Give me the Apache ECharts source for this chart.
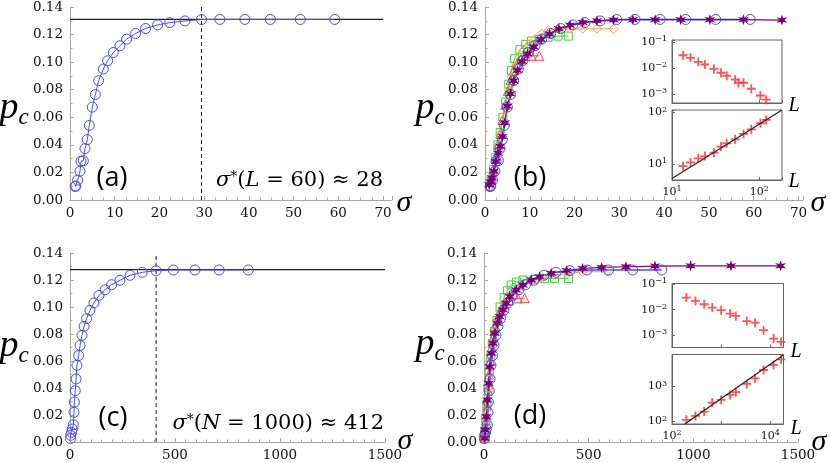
<!DOCTYPE html>
<html><head><meta charset="utf-8">
<script src="https://cdn.jsdelivr.net/npm/echarts@6/dist/echarts.min.js"></script>
<style>html,body{margin:0;padding:0;background:#fff}#c{width:830px;height:463px}</style>
</head><body><div id="c"></div>
<script>
// ---------- panel (a): L = 60 ----------
const aSigma = [1.15,1.30,1.71,2.23,2.46,2.98,3.35,3.87,4.32,4.99,5.66,6.40,7.45,8.41,9.68,11.17,12.66,14.67,16.90,19.60,22.30,25.70,29.40,33.50,39.10,44.80,51.50,59.20];
const aPc    = [0.0098,0.0102,0.0144,0.0209,0.0281,0.0285,0.0373,0.0438,0.0541,0.0674,0.0765,0.0866,0.0950,0.1010,0.1070,0.1119,0.1167,0.1208,0.1244,0.1270,0.1287,0.1299,0.1309,0.1310,0.1310,0.1310,0.1310,0.1310];
const aPlateau = 0.131, aPlateauEnd = 70, aStar = 29.4;

// ---------- panel (b) ----------
const bRedSigma = [1.0,1.4,1.9,2.4,2.9,3.4,3.9,4.5,5.1,5.7,6.4,7.2,8.0,9.0,10.4,12.1];
const bRedPc    = [0.010,0.015,0.022,0.030,0.040,0.048,0.058,0.069,0.079,0.087,0.094,0.099,0.102,0.1044,0.1046,0.1046];
const bGreenSigma = [1.0,1.4,1.9,2.4,2.9,3.4,4.0,4.6,5.3,5.9,6.6,7.8,9.1,10.4,12.1,14.1,16.3,18.6];
const bGreenPc    = [0.010,0.015,0.022,0.031,0.040,0.049,0.060,0.071,0.084,0.094,0.1025,0.109,0.1129,0.1153,0.1163,0.118,0.1189,0.1189];
const bOrangeSigma = [1.0,1.4,1.9,2.4,2.9,3.4,4.0,4.6,5.3,6.0,6.8,7.7,8.7,9.9,11.2,12.6,14.2,16.4,19.0,21.8,25.0,28.7];
const bOrangePc    = [0.009,0.014,0.021,0.030,0.039,0.048,0.058,0.069,0.080,0.089,0.097,0.104,0.109,0.113,0.117,0.1205,0.123,0.124,0.1242,0.1242,0.1242,0.1242];
const bPurpleSigma = [0.95,1.25,1.6,2.0,2.4,2.9,3.4,3.9,4.4,5.0,5.7,6.4,7.3,8.3,9.5,10.9,12.5,14.4,16.5,19.0,21.8,25.0,28.7,33.0,38.0,43.7,50.2,57.7,66.3];
const bPurplePc    = [0.011,0.013,0.016,0.021,0.028,0.034,0.039,0.046,0.056,0.068,0.077,0.0865,0.094,0.1005,0.106,0.111,0.1165,0.1205,0.1242,0.1268,0.1288,0.1300,0.1306,0.1308,0.1308,0.1308,0.1308,0.1308,0.1305];

// inset (b)
const bInsetTopL = [13.4,16.3,20,23.8,30.2,36.4,42.4,52.9,57.6,66,81,103,120];
const bInsetTopV = [0.032,0.0255,0.0179,0.0141,0.0095,0.0068,0.0052,0.0037,0.0028,0.0028,0.00165,0.00091,0.00063];
const bInsetBotL = [13.4,16.3,20,23.8,30.2,36.4,42.4,52.9,66,81,103,120];
const bInsetBotV = [9.1,10.8,12.9,14.3,16.6,21.8,25.3,30.2,38.4,47.3,62,72];
const bFitL = [10,182];
const bFitV = [5.25,112];

// ---------- panel (c): N = 1000 ----------
const cSigma = [2,3,8,11,16,19,21,25,29,33,41,48,57,67,79,95,114,138,167,198,238,286,344,410,492,595,710,849];
const cPc    = [0.0025,0.005,0.0072,0.0096,0.0128,0.022,0.0296,0.038,0.0467,0.0568,0.064,0.0716,0.079,0.0857,0.0914,0.0975,0.103,0.1086,0.1128,0.1165,0.1198,0.1235,0.1257,0.1269,0.1274,0.1274,0.1274,0.1274];
const cPlateau = 0.1277, cPlateauEnd = 1500, cStar = 410;

// ---------- panel (d) ----------
const dRedSigma = [2,5,9,14,19,24,30,37,45,55,66,80,98,120,162,194];
const dRedPc    = [0.003,0.008,0.016,0.027,0.038,0.050,0.060,0.070,0.078,0.086,0.092,0.098,0.102,0.105,0.1064,0.1066];
const dGreenSigma = [2,5,9,14,19,25,32,40,50,62,77,96,112,130,155,186,240,290,337,403];
const dGreenPc    = [0.003,0.008,0.017,0.028,0.040,0.052,0.063,0.073,0.082,0.090,0.100,0.107,0.112,0.1163,0.1185,0.12,0.1205,0.121,0.1212,0.1212];
const dOrangeSigma = [2,5,9,14,19,25,32,40,50,62,77,96,118,145,180,225,280,340,400,470,586];
const dOrangePc    = [0.003,0.008,0.017,0.028,0.040,0.052,0.063,0.073,0.082,0.090,0.097,0.103,0.108,0.1125,0.116,0.119,0.1215,0.1235,0.1248,0.126,0.1262];
const dPurpleSigma = [3,6,11,16,22,27,35,43,51,64,75,91,107,123,154,186,226,266,321,395,471,562,678,817,987,1180,1417];
const dPurplePc    = [0.0027,0.0089,0.0187,0.0311,0.0435,0.0558,0.0657,0.0731,0.0805,0.0879,0.0928,0.0978,0.1027,0.1077,0.1126,0.1163,0.12,0.1225,0.125,0.127,0.1285,0.1293,0.1298,0.1303,0.1305,0.1305,0.1305];

// inset (d)
const dInsetL    = [196,300,452,659,1000,1520,1990,3330,4900,7300,11700,16600];
const dInsetTopV = [0.030,0.0222,0.0164,0.0122,0.0096,0.0071,0.0057,0.0036,0.0031,0.00158,0.00074,0.00055];
const dInsetBotV = [112,145,193,349,417,576,691,1190,1730,2990,4170,6030];
const dFitL = [182,18600];
const dFitV = [85,8035];

// ---------- helpers ----------
const zip = (xs, ys) => xs.map((x, i) => [x, ys[i]]);
const SERIF = 'DejaVu Serif';
const AX = '#a8a8a8';
const BLUE = '#4a4aff', RED = '#ff4a4a', GREEN = '#3ad43a', ORANGE = '#ffa04a', PURPLE = '#7a007a';

function starPath(n, R, r) {
  let d = '';
  for (let i = 0; i < 2 * n; i++) {
    const a = -Math.PI / 2 + i * Math.PI / n;
    const rr = i % 2 === 0 ? R : r;
    d += (i === 0 ? 'M' : 'L') + (10 + rr * Math.cos(a)).toFixed(2) + ',' + (10 + rr * Math.sin(a)).toFixed(2);
  }
  return 'path://' + d + 'Z';
}
const STAR = starPath(6, 10, 4);
const PLUS = 'path://M4,0H6V4H10V6H6V10H4V6H0V4H4Z';

function mainX(g, max, interval, minorSplit) {
  return {
    type: 'value', gridIndex: g, min: 0, max: max, interval: interval,
    axisLine: { show: true, onZero: false, lineStyle: { color: AX, width: 1 } },
    axisTick: { show: true, inside: true, length: 4, lineStyle: { color: AX } },
    minorTick: { show: true, splitNumber: minorSplit, length: 2.5, lineStyle: { color: AX } },
    splitLine: { show: false },
    axisLabel: { margin: 6, color: '#111', fontFamily: SERIF, fontSize: 13.5,
      formatter: v => (Math.abs(v / interval - Math.round(v / interval)) < 1e-9 ? String(v) : '') }
  };
}
function mainY(g) {
  return {
    type: 'value', gridIndex: g, min: 0, max: 0.14, interval: 0.02,
    axisLine: { show: true, onZero: false, lineStyle: { color: AX, width: 1 } },
    axisTick: { show: true, inside: true, length: 4, lineStyle: { color: AX } },
    minorTick: { show: true, splitNumber: 2, length: 2.5, lineStyle: { color: AX } },
    splitLine: { show: false },
    axisLabel: { margin: 7, color: '#111', fontFamily: SERIF, fontSize: 13.5, formatter: v => v.toFixed(2) }
  };
}
const logRich = {
  b: { fontFamily: SERIF, fontSize: 11, color: '#111', lineHeight: 14 },
  s: { fontFamily: SERIF, fontSize: 8, color: '#111', lineHeight: 9, verticalAlign: 'top' }
};
function logAxis(g, min, max, showLabels, hide) {
  return {
    type: 'log', logBase: 10, gridIndex: g, min: min, max: max,
    axisLine: { show: true, onZero: false, lineStyle: { color: '#666' } },
    axisTick: { show: true, inside: true, length: 3, lineStyle: { color: '#666' } },
    splitLine: { show: false },
    axisLabel: {
      show: showLabels, margin: 5, rich: logRich,
      formatter: v => {
        const e = Math.log10(v), r = Math.round(e);
        if (Math.abs(e - r) > 1e-6 || hide.indexOf(r) >= 0) return '';
        return '{b|10}{s|' + (r < 0 ? '\u2212' + (-r) : r) + '}';
      }
    }
  };
}
function curve(g, xs, ys, color, symbol, size, filled, lw) {
  return {
    type: 'line', xAxisIndex: g, yAxisIndex: g, data: zip(xs, ys),
    symbol: symbol, symbolSize: size, showAllSymbol: true, silent: true,
    lineStyle: { color: color, width: lw || 1 },
    itemStyle: filled ? { color: color, borderWidth: 0 } : { color: 'rgba(0,0,0,0)', borderColor: color, borderWidth: 1 }
  };
}
function refLine(g, xs, ys, dashed) {
  return {
    type: 'line', xAxisIndex: g, yAxisIndex: g, data: zip(xs, ys), symbol: 'none', silent: true,
    lineStyle: { color: '#222', width: dashed ? 1 : 1.2, type: dashed ? [4, 3] : 'solid' }
  };
}
function plusSeries(g, xs, ys) {
  return {
    type: 'scatter', xAxisIndex: g, yAxisIndex: g, data: zip(xs, ys),
    symbol: PLUS, symbolSize: 9, silent: true, itemStyle: { color: '#ff2a2a' }
  };
}
function txt(x, y, text, style) {
  return { type: 'text', x: x, y: y, silent: true,
    style: Object.assign({ text: text, fill: '#000', align: 'center', verticalAlign: 'middle',
      textAlign: 'center', textVerticalAlign: 'middle' }, style) };
}
const pcRich = {
  p: { fontFamily: 'Liberation Serif', fontStyle: 'italic', fontSize: 38, lineHeight: 42, color: '#000' },
  c: { fontFamily: 'Liberation Serif', fontStyle: 'italic', fontSize: 23, lineHeight: 23, verticalAlign: 'bottom', color: '#000' }
};
const sigFont = { fontFamily: 'Liberation Serif', fontStyle: 'italic', fontSize: 30 };
const lFont = { fontFamily: 'Liberation Serif', fontStyle: 'italic', fontSize: 20 };
const panelFont = { fontFamily: 'Open Sans', fontSize: 27 };
const starRich = {
  i: { fontFamily: SERIF, fontStyle: 'italic', fontSize: 21, color: '#000' },
  u: { fontFamily: SERIF, fontSize: 14, color: '#000', verticalAlign: 'top', lineHeight: 14 }
};

const chart = echarts.init(document.getElementById('c'), null, { renderer: 'canvas' });
chart.setOption({
  animation: false,
  backgroundColor: '#fff',
  grid: [
    { left: 70, top: 6.5, width: 322, height: 193.5 },
    { left: 485, top: 6.5, width: 318, height: 193.5 },
    { left: 70, top: 253, width: 315, height: 189 },
    { left: 484, top: 253, width: 314, height: 189 },
    { left: 672, top: 40, width: 110, height: 63, show: true, backgroundColor: '#fff', borderColor: '#666', borderWidth: 1 },
    { left: 672, top: 110, width: 110, height: 70, show: true, backgroundColor: '#fff', borderColor: '#666', borderWidth: 1 },
    { left: 672, top: 283.5, width: 111.5, height: 64, show: true, backgroundColor: '#fff', borderColor: '#666', borderWidth: 1 },
    { left: 672, top: 354.5, width: 111.5, height: 69.5, show: true, backgroundColor: '#fff', borderColor: '#666', borderWidth: 1 }
  ],
  xAxis: [
    mainX(0, 72, 10, 4), mainX(1, 71, 10, 4), mainX(2, 1500, 500, 10), mainX(3, 1500, 500, 10),
    logAxis(4, 10, 182, false, []), logAxis(5, 10, 182, true, []),
    logAxis(6, 100, 18600, false, []), logAxis(7, 100, 18600, true, [3])
  ],
  yAxis: [
    mainY(0), mainY(1), mainY(2), mainY(3),
    logAxis(4, 0.000468, 0.123, true, []), logAxis(5, 4.9, 112, true, []),
    logAxis(6, 0.00033, 0.107, true, []), logAxis(7, 85, 8300, true, [])
  ],
  series: [
    // (a)
    refLine(0, [0, aPlateauEnd], [aPlateau, aPlateau], false),
    refLine(0, [aStar, aStar], [0, 0.14], true),
    curve(0, aSigma, aPc, BLUE, 'circle', 10, false, 1),
    // (b)
    curve(1, bRedSigma, bRedPc, RED, 'triangle', 9, false, 1),
    curve(1, bGreenSigma, bGreenPc, GREEN, 'rect', 8, false, 1),
    curve(1, bOrangeSigma, bOrangePc, ORANGE, 'diamond', 9, false, 1),
    curve(1, aSigma, aPc, BLUE, 'circle', 10, false, 1.5),
    curve(1, bPurpleSigma, bPurplePc, PURPLE, STAR, 11, true, 1.2),
    // (c)
    refLine(2, [0, cPlateauEnd], [cPlateau, cPlateau], false),
    refLine(2, [cStar, cStar], [0, 0.14], true),
    curve(2, cSigma, cPc, BLUE, 'circle', 10, false, 1),
    // (d)
    curve(3, dRedSigma, dRedPc, RED, 'triangle', 9, false, 1),
    curve(3, dGreenSigma, dGreenPc, GREEN, 'rect', 8, false, 1),
    curve(3, dOrangeSigma, dOrangePc, ORANGE, 'diamond', 9, false, 1),
    curve(3, cSigma, cPc, BLUE, 'circle', 10, false, 1.5),
    curve(3, dPurpleSigma, dPurplePc, PURPLE, STAR, 11, true, 1.2),
    // insets
    plusSeries(4, bInsetTopL, bInsetTopV),
    refLine(5, bFitL, bFitV, false),
    plusSeries(5, bInsetBotL, bInsetBotV),
    plusSeries(6, dInsetL, dInsetTopV),
    refLine(7, dFitL, dFitV, false),
    plusSeries(7, dInsetL, dInsetBotV)
  ],
  graphic: [
    txt(14, 108, '{p|p}{c|c}', { rich: pcRich }),
    txt(430, 108, '{p|p}{c|c}', { rich: pcRich }),
    txt(14, 346, '{p|p}{c|c}', { rich: pcRich }),
    txt(430, 344, '{p|p}{c|c}', { rich: pcRich }),
    txt(404, 203, '\u03c3', sigFont),
    txt(818, 203, '\u03c3', sigFont),
    txt(405, 441, '\u03c3', sigFont),
    txt(819, 442, '\u03c3', sigFont),
    txt(112, 178, '(a)', panelFont),
    txt(530, 178, '(b)', panelFont),
    txt(113, 418, '(c)', panelFont),
    txt(530, 416, '(d)', panelFont),
    txt(383, 181, '{i|\u03c3}{u|*}(' + '{i|L} = 60) \u2248 28',
      { rich: starRich, fontFamily: SERIF, fontSize: 21, align: 'right', textAlign: 'right' }),
    txt(384, 424, '{i|\u03c3}{u|*}(' + '{i|N} = 1000) \u2248 412',
      { rich: starRich, fontFamily: SERIF, fontSize: 21, align: 'right', textAlign: 'right' }),
    txt(794, 106, 'L', lFont),
    txt(794, 182, 'L', lFont),
    txt(796, 352, 'L', lFont),
    txt(796, 429, 'L', lFont)
  ]
});
</script></body></html>
